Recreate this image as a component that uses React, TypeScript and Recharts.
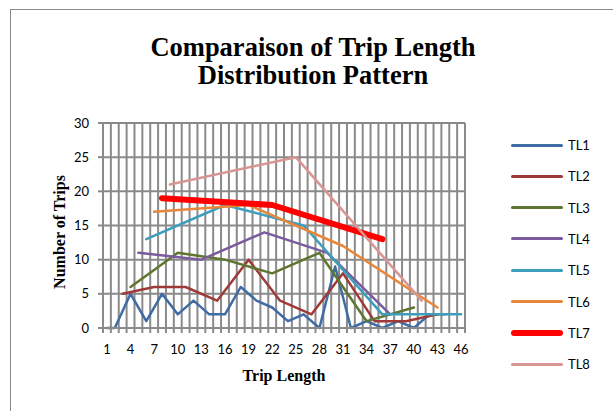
import { CartesianGrid, Line, LineChart, XAxis, YAxis } from "recharts";

// Trip length categories on the x axis
const TRIP_LENGTHS = [
  1, 2, 3, 4, 5, 6, 7, 8, 9, 10, 11, 12, 13, 14, 15, 16, 17, 18, 19, 20, 21, 22, 23,
  24, 25, 26, 27, 28, 29, 30, 31, 32, 33, 34, 35, 36, 37, 38, 39, 40, 41, 42, 43, 44,
  45, 46,
];
const X_TICKS = [1, 4, 7, 10, 13, 16, 19, 22, 25, 28, 31, 34, 37, 40, 43, 46];
const Y_TICKS = [0, 5, 10, 15, 20, 25, 30];

// each series is sampled at its own trip lengths
const TL1_AT = [1, 2, 4, 6, 8, 10, 12, 14, 16, 18, 20, 22, 24, 26, 28, 30, 32, 34, 36, 38, 40, 42, 44];
const TL1 = [0, 0, 5, 1, 5, 2, 4, 2, 2, 6, 4, 3, 1, 2, 0, 9, 0, 1, 0, 1, 0, 2, 2];
const TL2_AT = [3, 7, 11, 15, 19, 23, 27, 31, 35, 39, 43];
const TL2 = [5, 6, 6, 4, 10, 4, 2, 8, 1, 1, 2];
const TL3_AT = [4, 10, 16, 22, 28, 34, 40];
const TL3 = [6, 11, 10, 8, 11, 1, 3];
const TL4_AT = [5, 13, 21, 29, 37];
const TL4 = [11, 10, 14, 11, 2];
const TL5_AT = [6, 16, 26, 36, 46];
const TL5 = [13, 18, 15, 2, 2];
const TL6_AT = [7, 19, 31, 43];
const TL6 = [17, 18, 12, 3];
const TL7_AT = [8, 22, 36];
const TL7 = [19, 18, 13];
const TL8_AT = [9, 25, 41];
const TL8 = [21, 25, 4];

const SERIES = [
  { key: "TL1", at: TL1_AT, values: TL1, color: "#3F6CA5", width: 2.5 },
  { key: "TL2", at: TL2_AT, values: TL2, color: "#9E3B38", width: 2.5 },
  { key: "TL3", at: TL3_AT, values: TL3, color: "#5F7530", width: 2.5 },
  { key: "TL4", at: TL4_AT, values: TL4, color: "#7A5C9E", width: 2.5 },
  { key: "TL5", at: TL5_AT, values: TL5, color: "#3C9EBA", width: 2.5 },
  { key: "TL6", at: TL6_AT, values: TL6, color: "#E8863A", width: 2.5 },
  { key: "TL7", at: TL7_AT, values: TL7, color: "#FF0000", width: 6 },
  { key: "TL8", at: TL8_AT, values: TL8, color: "#D99594", width: 2.5 },
];

type Row = { len: number; [key: string]: number | null };

const rows: Row[] = TRIP_LENGTHS.map((t) => {
  const row: Row = { len: t };
  SERIES.forEach((s) => {
    const i = s.at.indexOf(t);
    row[s.key] = i >= 0 ? s.values[i] : null;
  });
  return row;
});

// gridlines and tick marks sit between categories
const BOUNDS = TRIP_LENGTHS.map((t) => t - 0.5).concat(TRIP_LENGTHS.length + 0.5);

const GRID = "#8a8a8a";
const SANS = "Lato, 'Liberation Sans', sans-serif";
const SERIF = "'Liberation Serif', 'Times New Roman', serif";

export default function App() {
  return (
    <div
      style={{
        position: "absolute",
        left: 0,
        top: 0,
        width: 613,
        height: 411,
        overflow: "hidden",
        background: "#fff",
      }}
    >
      <div
        style={{
          position: "absolute",
          left: 10,
          top: 9,
          width: 650,
          height: 450,
          border: `1px solid ${GRID}`,
        }}
      />
      <div
        style={{
          position: "absolute",
          left: 10,
          width: 606,
          top: 33,
          textAlign: "center",
          fontFamily: SERIF,
          fontWeight: "bold",
          fontSize: 26.5,
          lineHeight: "28px",
        }}
      >
        Comparaison of Trip Length
        <br />
        Distribution Pattern
      </div>

      <LineChart
        width={613}
        height={411}
        data={rows}
        margin={{ top: 123, right: 148, bottom: 47, left: 63 }}
        style={{ position: "absolute", left: 0, top: 0 }}
      >
        <CartesianGrid xAxisId="grid" stroke={GRID} strokeWidth={2} />
        <XAxis
          xAxisId="grid"
          dataKey="len"
          type="number"
          domain={[0.5, 46.5]}
          ticks={BOUNDS}
          interval={0}
          tickFormatter={() => ""}
          tickSize={5}
          height={6}
          stroke={GRID}
          strokeWidth={2}
        />
        <XAxis
          xAxisId="len"
          dataKey="len"
          type="number"
          domain={[0.5, 46.5]}
          ticks={X_TICKS}
          interval={0}
          axisLine={false}
          tickLine={false}
          tickSize={0}
          tickMargin={11}
          height={30}
          tick={{ fill: "#000", fontSize: 13, fontFamily: SANS }}
        />
        <YAxis
          domain={[0, 30]}
          ticks={Y_TICKS}
          interval={0}
          width={40}
          tickSize={5}
          tickMargin={9}
          stroke={GRID}
          strokeWidth={2}
          tick={{ fill: "#000", fontSize: 13, fontFamily: SANS }}
        />
        {SERIES.map((s) => (
          <Line
            key={s.key}
            xAxisId="len"
            dataKey={s.key}
            type="linear"
            stroke={s.color}
            strokeWidth={s.width}
            strokeLinecap="round"
            strokeLinejoin="round"
            dot={false}
            activeDot={false}
            connectNulls
            isAnimationActive={false}
          />
        ))}
      </LineChart>

      <div
        style={{
          position: "absolute",
          left: 103,
          width: 362,
          top: 367,
          textAlign: "center",
          fontFamily: SERIF,
          fontWeight: "bold",
          fontSize: 16,
          lineHeight: "18px",
        }}
      >
        Trip Length
      </div>
      <div
        style={{
          position: "absolute",
          left: 60,
          top: 232,
          transform: "translate(-50%, -50%) rotate(-90deg)",
          whiteSpace: "nowrap",
          fontFamily: SERIF,
          fontWeight: "bold",
          fontSize: 16,
        }}
      >
        Number of Trips
      </div>

      {SERIES.map((s, i) => (
        <div
          key={s.key}
          style={{
            position: "absolute",
            left: 511,
            top: 145 + i * 31.3 - 9,
            height: 18,
            display: "flex",
            alignItems: "center",
          }}
        >
          <div
            style={{
              width: 52,
              height: s.width === 6 ? 6 : 3,
              borderRadius: 3,
              background: s.color,
            }}
          />
          <span style={{ marginLeft: 5, fontFamily: SANS, fontSize: 13 }}>{s.key}</span>
        </div>
      ))}
    </div>
  );
}
